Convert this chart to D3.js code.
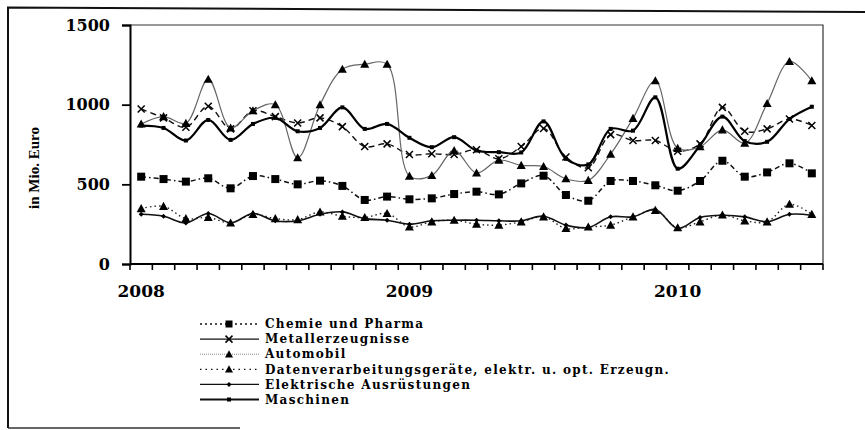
<!DOCTYPE html>
<html>
<head>
<meta charset="utf-8">
<script src="https://cdn.jsdelivr.net/npm/d3@7"></script>
<style>
  html, body { margin: 0; padding: 0; background: #fff; }
  svg { display: block; }
</style>
</head>
<body>
<svg id="chart" width="865" height="430"></svg>
<script>
// ---------- DATA (monthly, Jan 2008 – Jul 2010, in Mio. Euro) ----------
const months = d3.range(31); // 0 = Jan 2008 ... 30 = Jul 2010
const yearLabels = [{ idx: 0, label: "2008" }, { idx: 12, label: "2009" }, { idx: 24, label: "2010" }];
const yTicks = [0, 500, 1000, 1500];

const chemie = [548,533,517,538,475,552,533,500,523,490,402,423,406,412,439,454,437,506,554,433,397,521,521,494,460,521,648,548,575,632,569];
const metall = [973,917,858,990,848,962,925,885,917,862,737,754,687,692,687,717,660,737,851,671,604,812,775,775,708,754,983,833,848,910,869];
const automobil = [879,925,883,1160,854,962,1000,667,1000,1223,1254,1254,552,556,712,571,652,619,612,535,525,690,914,1150,726,736,842,758,1008,1271,1150];
const daten = [348,362,285,292,258,312,285,279,327,300,292,317,233,265,275,250,244,265,296,223,233,244,296,337,228,265,308,271,265,375,312];
const elektrisch = [312,300,258,317,258,317,271,271,312,327,285,275,250,271,275,275,271,271,300,244,229,296,296,342,223,292,306,296,265,312,306];
const maschinen = [869,854,775,904,779,879,917,833,854,983,848,879,792,733,796,712,702,700,895,660,625,848,837,1046,598,744,925,771,767,910,987];

const seriesNames = [
  "Chemie und Pharma",
  "Metallerzeugnisse",
  "Automobil",
  "Datenverarbeitungsgeräte, elektr. u. opt. Erzeugn.",
  "Elektrische Ausrüstungen",
  "Maschinen"
];
const seriesValues = [chemie, metall, automobil, daten, elektrisch, maschinen];
const yTitle = "in Mio. Euro";

// ---------- STYLES ----------
const styles = [
  { stroke: "#111", width: 1.5, dash: "5,3,1.5,3", marker: "square", msize: 8, legendDash: "2,3" },
  { stroke: "#111", width: 1.4, dash: "6,4", marker: "x", msize: 7, legendDash: null },
  { stroke: "#666", width: 1.2, dash: null, marker: "triangle", msize: 9, legendDash: "1,1" },
  { stroke: "#222", width: 1.4, dash: "1.5,3", marker: "triangle", msize: 9, legendDash: "1.5,4" },
  { stroke: "#111", width: 1.6, dash: null, marker: "plus", msize: 5, legendDash: null },
  { stroke: "#000", width: 2.2, dash: null, marker: "smallsquare", msize: 4, legendDash: null }
];

const svg = d3.select("#chart");
const plot = { left: 130, right: 823, top: 25, bottom: 264 };

const x = d3.scaleBand().domain(months).range([plot.left, plot.right]).padding(0);
const xc = i => x(i) + x.bandwidth() / 2;
const y = d3.scaleLinear().domain([0, 1500]).range([plot.bottom, plot.top]);

// ---------- outer frame (scan border) ----------
svg.append("path").attr("d", "M8,428 L8,7.5 L865,12").attr("fill", "none").attr("stroke", "#111").attr("stroke-width", 2);
svg.append("line").attr("x1", 8).attr("x2", 240).attr("y1", 428).attr("y2", 428).attr("stroke", "#333").attr("stroke-width", 1.5);

// ---------- plot border ----------
svg.append("path")
  .attr("d", `M${plot.left},${plot.top} L${plot.right},${plot.top} L${plot.right},${plot.bottom}`)
  .attr("fill", "none").attr("stroke", "#333").attr("stroke-width", 1.2);

// ---------- y axis ----------
const yAxis = svg.append("g").attr("transform", `translate(${plot.left},0)`)
  .call(d3.axisLeft(y).tickValues(yTicks).tickSize(8).tickPadding(12).tickFormat(d3.format("d")));
yAxis.select(".domain").attr("stroke", "#000").attr("stroke-width", 2);
yAxis.selectAll(".tick line").attr("stroke", "#000").attr("stroke-width", 1.8);
yAxis.selectAll(".tick text")
  .attr("font-family", "DejaVu Serif").attr("font-weight", "bold").attr("font-size", 16).attr("fill", "#000");

// ---------- x axis ----------
const xAxisG = svg.append("g");
xAxisG.append("line").attr("x1", plot.left).attr("x2", plot.right)
  .attr("y1", plot.bottom).attr("y2", plot.bottom).attr("stroke", "#000").attr("stroke-width", 2);
const boundaries = months.map(i => x(i)).concat([plot.right]);
xAxisG.selectAll("line.tk").data(boundaries).join("line").attr("class", "tk")
  .attr("x1", d => d).attr("x2", d => d).attr("y1", plot.bottom).attr("y2", plot.bottom + 6)
  .attr("stroke", "#000").attr("stroke-width", 1.6);
xAxisG.selectAll("text").data(yearLabels).join("text")
  .attr("x", d => xc(d.idx)).attr("y", 297)
  .attr("text-anchor", "middle")
  .attr("font-family", "DejaVu Serif").attr("font-weight", "bold").attr("font-size", 17)
  .text(d => d.label);

// y title
svg.append("text")
  .attr("transform", "translate(39,168) rotate(-90)")
  .attr("text-anchor", "middle")
  .attr("font-family", "Liberation Serif").attr("font-weight", "bold").attr("font-size", 15)
  .text(yTitle);

// ---------- markers ----------
function drawMarker(g, type, size) {
  if (type === "square" || type === "smallsquare") {
    g.append("rect").attr("x", -size / 2).attr("y", -size / 2).attr("width", size).attr("height", size).attr("fill", "#000");
  } else if (type === "x") {
    const s = size / 2;
    g.append("path").attr("d", `M${-s},${-s}L${s},${s}M${-s},${s}L${s},${-s}`).attr("stroke", "#000").attr("stroke-width", 1.5);
  } else if (type === "triangle") {
    const s = size / 2;
    g.append("path").attr("d", `M0,${-s}L${s},${s * 0.8}L${-s},${s * 0.8}Z`).attr("fill", "#000");
  } else if (type === "plus") {
    const s = size / 2;
    g.append("path").attr("d", `M0,${-s}L${s},0L0,${s}L${-s},0Z`).attr("fill", "#000");
  }
}

// ---------- lines ----------
const line = d3.line().x((d, i) => xc(i)).y(d => y(d)).curve(d3.curveCatmullRom.alpha(0.5));

seriesValues.forEach((vals, k) => {
  const st = styles[k];
  svg.append("path").datum(vals)
    .attr("d", line)
    .attr("fill", "none")
    .attr("stroke", st.stroke)
    .attr("stroke-width", st.width)
    .attr("stroke-dasharray", st.dash)
    .attr("stroke-linejoin", "round");
  const mg = svg.append("g");
  vals.forEach((v, i) => {
    const g = mg.append("g").attr("transform", `translate(${xc(i)},${y(v)})`);
    drawMarker(g, st.marker, st.msize);
  });
});

// ---------- legend ----------
const legend = svg.append("g");
seriesNames.forEach((name, k) => {
  const st = styles[k];
  const ly = 324 + k * 15.1;
  legend.append("line").attr("x1", 200).attr("x2", 259).attr("y1", ly).attr("y2", ly)
    .attr("stroke", k === 2 ? "#888" : "#111")
    .attr("stroke-width", k === 5 ? 1.8 : (k === 2 ? 1 : 1.3))
    .attr("stroke-dasharray", st.legendDash);
  const mg = legend.append("g").attr("transform", `translate(229,${ly})`);
  drawMarker(mg, st.marker, st.marker === "square" ? 7 : (st.marker === "triangle" ? 8 : st.msize));
  legend.append("text").attr("x", 265).attr("y", ly).attr("dy", "0.35em")
    .attr("font-family", "DejaVu Serif").attr("font-weight", "bold").attr("font-size", 12)
    .attr("letter-spacing", 1.3)
    .text(name);
});
</script>
</body>
</html>
